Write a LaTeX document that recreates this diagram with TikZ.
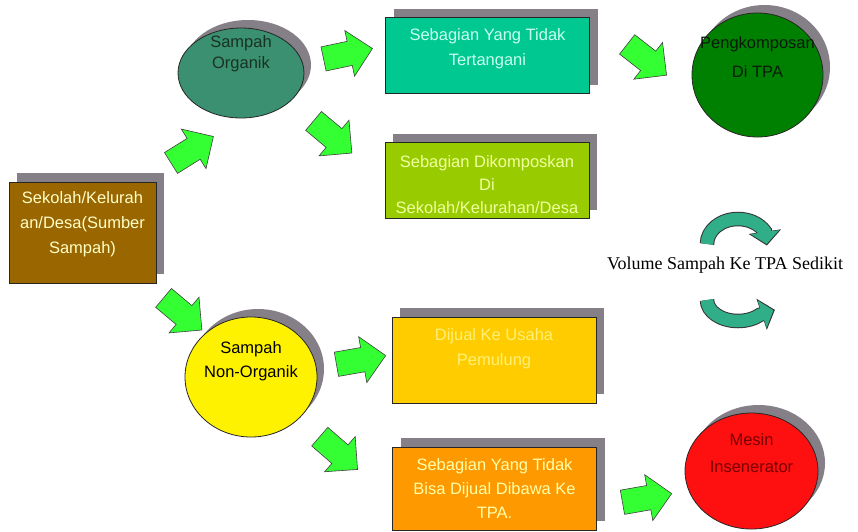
\documentclass[tikz,border=0pt]{standalone}
\usepackage{fontspec}
\setmainfont{Liberation Sans}
\newfontfamily\volfont{Liberation Serif}
\usetikzlibrary{arrows.meta,positioning,calc,shapes.arrows,shapes.geometric,shadows}
\definecolor{srcBrown}{HTML}{996600}
\definecolor{orgTeal}{HTML}{3A9070}
\definecolor{ttTeal}{HTML}{00C891}
\definecolor{komLime}{HTML}{99CC00}
\definecolor{jualGold}{HTML}{FFCC00}
\definecolor{tpaOrange}{HTML}{FF9900}
\definecolor{kompGreen}{HTML}{008000}
\definecolor{mesinRed}{HTML}{FF1010}
\definecolor{arrGreen}{HTML}{33FF33}
\definecolor{curlTeal}{HTML}{2FAE88}
\definecolor{shadeGray}{HTML}{858087}

\tikzset{
  procbox/.style={rectangle,draw=black!85,line width=1pt,minimum width=204pt,
    minimum height=76pt,inner sep=0pt,
    general shadow={shadow xshift=8pt,shadow yshift=9pt,fill=shadeGray}},
  blob/.style={ellipse,draw=black!85,line width=0.8pt,inner sep=0pt,
    general shadow={shadow xshift=7pt,shadow yshift=8pt,fill=shadeGray}},
  boxtext/.style={align=center,inner sep=0pt,font=\fontsize{16.5}{25}\selectfont},
  blockarr/.style={single arrow,draw=black!75,line width=0.6pt,fill=arrGreen,
    inner xsep=0pt,inner ysep=12pt,minimum height=50pt,
    single arrow head extend=11pt},
  curlout/.style={draw=black!80,line width=14.5pt,-{Triangle[width=32pt,length=14pt]}},
  curlin/.style={draw=curlTeal,line width=12.5pt,shorten >=1.5pt,
    -{Triangle[width=28pt,length=12pt]}}
}

\begin{document}
\begin{tikzpicture}[x=1pt,y=-1pt]
\useasboundingbox (0,0) rectangle (858,531);

% boxes
\node[procbox,fill=srcBrown,minimum width=147pt,minimum height=101pt] (src) at (82.5,232.5) {};
\node[procbox,fill=ttTeal] (tt) at (487.5,55.5) {};
\node[procbox,fill=komLime] (kom) at (487,180.5) {};
\node[procbox,fill=jualGold,minimum height=86pt] (jual) at (494,360) {};
\node[procbox,fill=tpaOrange,minimum height=83pt] (sisa) at (494.5,488.5) {};

\node[boxtext,text={rgb,255:red,255;green,255;blue,200},below=10pt of src.north] (srctxt)
  {Sekolah/Kelurah\\an/Desa(Sumber\\Sampah)};
\node[boxtext,text={rgb,255:red,200;green,255;blue,240},below=11pt of tt.north] (tttxt)
  {Sebagian Yang Tidak\\Tertangani};
\node[boxtext,text={rgb,255:red,240;green,255;blue,160},font=\fontsize{16.5}{23}\selectfont,
  below=13pt of kom.north] (komtxt)
  {Sebagian Dikomposkan\\Di\\Sekolah/Kelurahan/Desa};
\node[boxtext,text={rgb,255:red,255;green,240;blue,120},below=12pt of jual.north] (jualtxt)
  {Dijual Ke Usaha\\Pemulung};
\node[boxtext,text={rgb,255:red,255;green,255;blue,170},font=\fontsize{16.5}{24}\selectfont,
  below=12pt of sisa.north] (sisatxt)
  {Sebagian Yang Tidak\\Bisa Dijual Dibawa Ke\\TPA.};

% ellipses
\node[blob,fill=orgTeal,minimum width=126pt,minimum height=90pt] (org) at (241,73) {};
\node[blob,fill=yellow,minimum width=132pt,minimum height=120pt] (non) at (251,377) {};
\node[blob,fill=kompGreen,minimum width=131pt,minimum height=124pt] (komp) at (757.5,75) {};
\node[blob,fill=mesinRed,minimum width=133pt,minimum height=116pt] (mesin) at (751.5,471) {};

\node[boxtext,text={rgb,255:red,25;green,50;blue,38},font=\fontsize{16.5}{21}\selectfont,
  below=8pt of org.north] (orgtxt) {Sampah\\Organik};
\node[boxtext,text=black,font=\fontsize{16.5}{24}\selectfont,
  below=25pt of non.north] (nontxt) {Sampah\\Non-Organik};
\node[boxtext,text={rgb,255:red,10;green,26;blue,10},font=\fontsize{16.5}{29}\selectfont,
  below=24pt of komp.north] (komptxt) {Pengkomposan\\Di TPA};
\node[boxtext,text={rgb,255:red,120;green,0;blue,0},font=\fontsize{16.5}{27}\selectfont,
  below=21pt of mesin.north] (mesintxt) {Mesin\\Insenerator};

% block arrows
\node[blockarr,rotate=32] (a1) at (187,153) {};
\node[blockarr,rotate=12] (a2) at (342,55) {};
\node[blockarr,rotate=-40] (a3) at (328,133) {};
\node[blockarr,rotate=-38] (a4) at (642,56) {};
\node[blockarr,rotate=-40] (a5) at (178,310) {};
\node[blockarr,rotate=10] (a6) at (355,361) {};
\node[blockarr,rotate=-41] (a7) at (334,449) {};
\node[blockarr,rotate=10] (a8) at (641,499) {};

% volume note with curled arrows
\node[font=\volfont\fontsize{18}{20}\selectfont,inner sep=0pt] (vol) at (725,265)
  {Volume Sampah Ke TPA Sedikit};
\coordinate (curlA) at (707,244);
\coordinate (curlB) at (707,300);
\draw[curlout] (curlA) arc[start angle=180,end angle=330,x radius=31,y radius=25] -- ++(2,14);
\draw[curlin] (curlA) arc[start angle=180,end angle=330,x radius=31,y radius=25] -- ++(2,14);
\draw[curlout] (curlB) arc[start angle=180,end angle=45,x radius=31,y radius=21] -- ++(15,-5);
\draw[curlin] (curlB) arc[start angle=180,end angle=45,x radius=31,y radius=21] -- ++(15,-5);
\end{tikzpicture}
\end{document}
